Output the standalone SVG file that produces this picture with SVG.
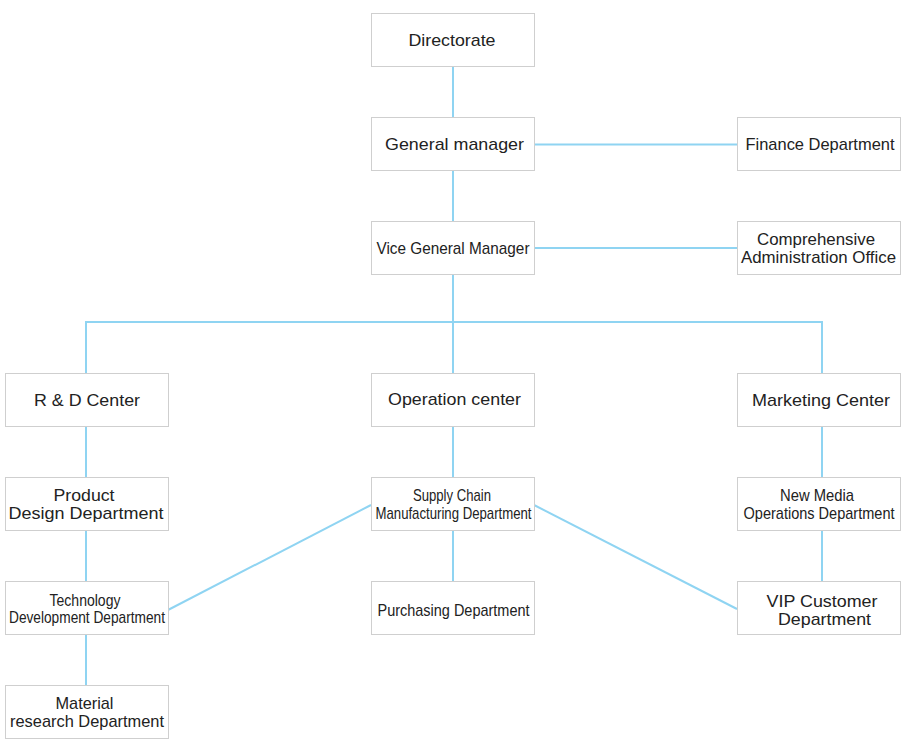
<svg xmlns="http://www.w3.org/2000/svg" width="907" height="746" viewBox="0 0 907 746">
<style>
.box rect{fill:#fff;stroke:#cfcfcf;stroke-width:1}
.box text{font-family:"Liberation Sans",Arial,sans-serif;font-size:17px;fill:#222;text-anchor:middle}
.c line{stroke:#8fd4f2;stroke-width:2;fill:none}
</style>
<rect width="907" height="746" fill="#fff"/>
<g id="connectors" class="c">
<line x1="453" y1="66" x2="453" y2="117"/>
<line x1="453" y1="170" x2="453" y2="221"/>
<line x1="534" y1="144.5" x2="737" y2="144.5"/>
<line x1="534" y1="248" x2="737" y2="248"/>
<line x1="453" y1="274" x2="453" y2="373"/>
<line x1="86" y1="322" x2="822" y2="322"/>
<line x1="86" y1="321" x2="86" y2="373"/>
<line x1="822" y1="321" x2="822" y2="373"/>
<line x1="86" y1="426" x2="86" y2="477"/>
<line x1="86" y1="530" x2="86" y2="581"/>
<line x1="86" y1="634" x2="86" y2="685"/>
<line x1="453" y1="426" x2="453" y2="477"/>
<line x1="453" y1="530" x2="453" y2="581"/>
<line x1="822" y1="426" x2="822" y2="477"/>
<line x1="822" y1="530" x2="822" y2="581"/>
<line x1="371" y1="505" x2="168" y2="610"/>
<line x1="534" y1="505" x2="737" y2="609"/>
</g>
<g id="directorate" class="box"><rect x="371.5" y="13.5" width="163" height="53"/><text x="452" y="45.5" textLength="87" lengthAdjust="spacingAndGlyphs">Directorate</text></g>
<g id="general-manager" class="box"><rect x="371.5" y="117.5" width="163" height="53"/><text x="454.5" y="150" textLength="139" lengthAdjust="spacingAndGlyphs">General manager</text></g>
<g id="finance" class="box"><rect x="737.5" y="117.5" width="163" height="53"/><text x="820" y="150" textLength="149" lengthAdjust="spacingAndGlyphs">Finance Department</text></g>
<g id="vice-gm" class="box"><rect x="371.5" y="221.5" width="163" height="53"/><text x="453" y="254" textLength="153" lengthAdjust="spacingAndGlyphs">Vice General Manager</text></g>
<g id="admin-office" class="box"><rect x="737.5" y="221.5" width="163" height="53"/><text x="816" y="245" textLength="118" lengthAdjust="spacingAndGlyphs">Comprehensive</text><text x="818.5" y="263" textLength="155" lengthAdjust="spacingAndGlyphs">Administration Office</text></g>
<g id="rd-center" class="box"><rect x="5.5" y="373.5" width="163" height="53"/><text x="87" y="406" textLength="106" lengthAdjust="spacingAndGlyphs">R &amp; D Center</text></g>
<g id="operation-center" class="box"><rect x="371.5" y="373.5" width="163" height="53"/><text x="454.5" y="405" textLength="133" lengthAdjust="spacingAndGlyphs">Operation center</text></g>
<g id="marketing-center" class="box"><rect x="737.5" y="373.5" width="163" height="53"/><text x="821" y="406" textLength="138" lengthAdjust="spacingAndGlyphs">Marketing Center</text></g>
<g id="product-design" class="box"><rect x="5.5" y="477.5" width="163" height="53"/><text x="84" y="500.5" textLength="61" lengthAdjust="spacingAndGlyphs">Product</text><text x="86" y="518.5" textLength="155" lengthAdjust="spacingAndGlyphs">Design Department</text></g>
<g id="supply-chain" class="box"><rect x="371.5" y="477.5" width="163" height="53"/><text x="452" y="500.5" font-size="15" textLength="78" lengthAdjust="spacingAndGlyphs">Supply Chain</text><text x="453.5" y="518.5" font-size="15" textLength="156" lengthAdjust="spacingAndGlyphs">Manufacturing Department</text></g>
<g id="new-media" class="box"><rect x="737.5" y="477.5" width="163" height="53"/><text x="817" y="500.5" font-size="15" textLength="74" lengthAdjust="spacingAndGlyphs">New Media</text><text x="819" y="518.5" font-size="15" textLength="151" lengthAdjust="spacingAndGlyphs">Operations Department</text></g>
<g id="tech-dev" class="box"><rect x="5.5" y="581.5" width="163" height="53"/><text x="85" y="605.5" font-size="15" textLength="71" lengthAdjust="spacingAndGlyphs">Technology</text><text x="87" y="623" font-size="15" textLength="156" lengthAdjust="spacingAndGlyphs">Development Department</text></g>
<g id="purchasing" class="box"><rect x="371.5" y="581.5" width="163" height="53"/><text x="453.5" y="615.5" font-size="15.5" textLength="152" lengthAdjust="spacingAndGlyphs">Purchasing Department</text></g>
<g id="vip-customer" class="box"><rect x="737.5" y="581.5" width="163" height="53"/><text x="822" y="606.5" textLength="111" lengthAdjust="spacingAndGlyphs">VIP Customer</text><text x="824.5" y="624.5" textLength="93" lengthAdjust="spacingAndGlyphs">Department</text></g>
<g id="material-research" class="box"><rect x="5.5" y="685.5" width="163" height="53"/><text x="84.5" y="709" textLength="58" lengthAdjust="spacingAndGlyphs">Material</text><text x="87" y="727" textLength="154" lengthAdjust="spacingAndGlyphs">research Department</text></g>
</svg>
